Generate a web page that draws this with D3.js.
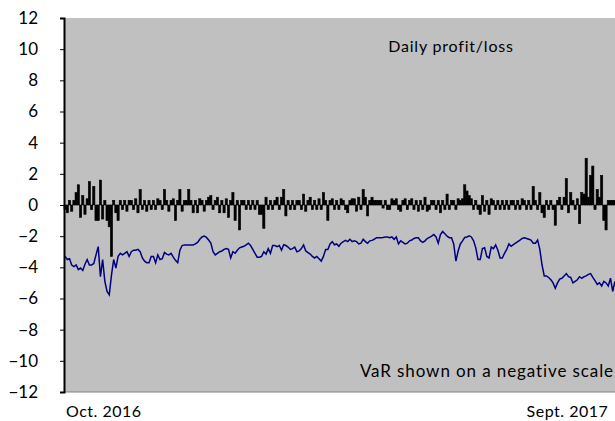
<!DOCTYPE html>
<html>
<head>
<meta charset="utf-8">
<script src="https://cdn.jsdelivr.net/npm/d3@7"></script>
<style>
  body { margin: 0; background: #fff; }
  text { font-family: Lato, "Open Sans", sans-serif; fill: #000; }
</style>
</head>
<body>
<div id="chart"></div>
<script>
var width = 615;
var height = 421;

// daily profit/loss, one value per trading day (Oct. 2016 - Sept. 2017)
var pnl = [
  -0.3, -0.5, 0.3, -0.4, 0.3, 0.8, 1.3, -0.8, 0.6, -0.6,
  0.4, 1.5, -0.3, 1.2, -1.0, -1.0, 1.6, -0.9, 0.3, -1.0,
  -1.4, -3.3, 0.3, -0.5, -1.0, 0.3, -0.3, 0.3, -0.4, 0.3,
  0.3, -0.3, 0.4, -0.5, 1.0, -0.3, 0.3, -0.4, 0.3, -0.3,
  0.3, -0.3, 0.4, 0.3, -0.3, 1.0, 0.3, -0.4, 0.3, 0.4,
  -1.0, 0.3, 1.0, -0.4, 0.3, 0.3, 1.0, 0.3, -0.5, 0.3,
  -0.5, 0.4, 0.3, -0.4, 0.3, 0.5, 0.6, -0.3, 0.3, 0.5,
  -0.5, 0.3, -0.5, 0.4, -0.8, 0.3, 0.8, -1.0, 0.3, -1.6,
  0.3, 0.3, -0.3, 0.3, -0.3, 0.3, -0.3, 0.3, -0.6, -0.6,
  -1.5, 0.5, -0.3, 0.3, -0.3, 0.3, 0.5, -0.3, 0.5, 1.0,
  -0.7, 0.3, -0.3, 0.3, -0.3, 0.3, 0.3, -0.3, 0.7, -0.4,
  0.3, 0.5, -0.3, 0.3, -0.3, 0.4, -0.3, 0.8, 0.3, -1.0,
  0.3, 0.4, -0.3, 0.3, -0.3, 0.4, 0.3, -0.3, -0.5, 0.3,
  0.4, 0.4, -0.4, 0.5, -0.3, 1.0, 0.5, -0.7, 0.3, 0.5,
  0.3, 0.3, 0.3, 0.3, -0.2, 0.3, -0.3, -0.3, 0.4, 0.3,
  0.4, -0.3, -0.4, 0.3, 0.4, -0.3, 0.3, 0.4, -0.3, 0.3,
  -0.4, 0.3, -0.3, 0.5, -0.4, -0.3, 0.3, 0.3, -0.3, 0.3,
  -0.5, 0.3, -0.3, 0.7, -0.3, 0.3, 0.3, -0.3, 0.4, 0.3,
  0.4, 1.3, 0.9, 0.6, 0.4, -0.3, 0.3, -0.3, -0.6, 0.6,
  -0.4, 0.3, -0.6, 0.4, 0.3, -0.3, 0.3, -0.3, 0.3, -0.3,
  0.3, -0.3, 0.3, 0.3, -0.3, 0.3, -0.3, 0.4, 0.3, -0.3,
  0.3, -0.3, 1.2, 0.3, -0.3, 0.8, -0.5, -0.8, 0.3, -0.3,
  0.3, -0.3, -1.3, 0.3, 0.5, -0.3, 0.5, 1.7, -0.5, 0.8,
  0.3, -0.3, 0.4, -1.2, 0.8, 0.7, 3.0, 0.5, 1.9, 2.5,
  -0.3, 1.0, 0.5, 1.9, -1.0, -1.6, 0.3, 0.3, 0.3, 0.3
];

// value-at-risk, shown on a negative scale
var valueAtRisk = [
  -3.3, -3.5, -3.45, -3.85, -3.95, -3.85, -4.15, -4.05, -4.2, -3.8,
  -3.5, -3.85, -3.85, -3.75, -3.2, -2.67, -4.6, -3.5, -4.9, -5.55,
  -5.77, -4.5, -3.5, -4.05, -3.3, -3.1, -3.2, -3.1, -3.0, -3.3,
  -3.0, -2.9, -2.9, -2.85, -3.0, -3.4, -3.6, -3.7, -3.7, -3.3,
  -3.3, -3.7, -3.2, -3.5, -3.45, -3.05, -3.15, -3.2, -3.1, -3.35,
  -3.55, -3.7, -2.9, -2.6, -2.56, -2.56, -2.56, -2.56, -2.56, -2.5,
  -2.4, -2.2, -2.05, -2.0, -2.08, -2.25, -2.45, -3.0, -3.2, -3.1,
  -3.0, -2.95, -2.85, -2.8, -2.85, -3.4, -3.0, -3.1, -2.9, -2.75,
  -2.7, -2.65, -2.56, -2.45, -2.6, -2.85, -3.1, -3.35, -3.35, -3.3,
  -3.0, -3.15, -2.8, -3.1, -2.6, -2.6, -2.67, -2.6, -2.9, -2.55,
  -2.6, -2.7, -2.85, -2.8, -2.7, -3.0, -2.95, -2.8, -2.56, -2.95,
  -3.05, -3.15, -3.3, -3.4, -3.3, -3.45, -3.6, -3.3, -2.85, -2.85,
  -2.5, -2.35, -2.55, -2.5, -2.65, -2.45, -2.35, -2.27, -2.35, -2.2,
  -2.35, -2.3, -2.35, -2.5, -2.45, -2.2, -2.35, -2.45, -2.3, -2.27,
  -2.2, -2.1, -2.1, -2.1, -2.08, -2.05, -2.05, -2.1, -2.05, -2.2,
  -2.05, -2.5, -2.3, -2.4, -2.5, -2.45, -2.3, -2.25, -2.15, -2.1,
  -2.1, -2.3, -2.4, -2.3, -2.15, -2.08, -2.0, -1.9, -2.05, -2.45,
  -1.9, -1.7, -1.85, -2.0, -2.1, -2.1, -2.5, -3.6, -2.95, -2.5,
  -2.3, -2.08, -2.05, -1.98, -2.05, -2.3, -2.75, -3.5, -3.5, -2.8,
  -2.75, -3.3, -3.4, -2.7, -2.8, -2.56, -2.9, -3.4, -3.4, -3.1,
  -2.85, -2.5, -2.65, -2.55, -2.45, -2.35, -2.25, -2.15, -2.1, -2.15,
  -2.2, -2.25, -2.45, -2.45, -2.25, -2.85, -3.85, -4.55, -4.55, -4.65,
  -4.8, -5.0, -5.35, -5.0, -4.75, -4.7, -4.55, -4.4, -4.6, -4.65,
  -5.0, -4.9, -4.8, -4.6, -4.7, -4.6, -4.55, -4.45, -4.4, -4.65,
  -4.85, -5.1, -5.0, -5.2, -4.9, -5.0, -5.2, -4.7, -5.55, -4.9
];

var yTicks = [-12, -10, -8, -6, -4, -2, 0, 2, 4, 6, 8, 10, 12];
var xTickIdx = [18, 228];
var xTickLabels = ["Oct. 2016", "Sept. 2017"];

var marginLeft = 64;
var marginTop = 18;
var plotRight = 616;
var plotBottom = 392;

var svg = d3.select("#chart").append("svg")
    .attr("width", width)
    .attr("height", height);

var x = d3.scaleBand()
    .domain(d3.range(pnl.length))
    .range([marginLeft, plotRight])
    .padding(0);

var y = d3.scaleLinear()
    .domain([-12, 12])
    .range([plotBottom, marginTop]);

// grey plot area
svg.append("rect")
    .attr("x", marginLeft)
    .attr("y", marginTop)
    .attr("width", width - marginLeft)
    .attr("height", plotBottom - marginTop)
    .style("fill", "#c0c0c0");

// daily profit/loss bars
svg.selectAll("rect.bar").data(pnl)
    .enter().append("rect")
    .attr("class", "bar")
    .attr("x", function (d, i) { return x(i); })
    .attr("width", x.bandwidth())
    .attr("y", function (d) { return y(Math.max(0, d)); })
    .attr("height", function (d) { return Math.abs(y(d) - y(0)); })
    .style("fill", "#000")
    .style("stroke", "#000")
    .style("stroke-width", 0.6);

// VaR line
var line = d3.line()
    .x(function (d, i) { return x(i) + x.bandwidth() / 2; })
    .y(function (d) { return y(d); });

svg.append("path")
    .datum(valueAtRisk)
    .attr("d", line)
    .style("fill", "none")
    .style("stroke", "#000080")
    .style("stroke-width", 1.5);

// bottom line of the plot area
svg.append("line")
    .attr("x1", marginLeft).attr("x2", width)
    .attr("y1", plotBottom).attr("y2", plotBottom)
    .style("stroke", "#808080")
    .style("stroke-width", 1);

// y axis
var yAxis = svg.append("g")
    .attr("transform", "translate(" + marginLeft + ",0)")
    .call(d3.axisLeft(y).tickValues(yTicks).tickSize(4).tickPadding(22));

yAxis.select(".domain").style("stroke", "#000").style("stroke-width", 2);
yAxis.selectAll(".tick line").style("stroke", "#000");
yAxis.selectAll("text")
    .style("font-family", "Lato, 'Open Sans', sans-serif")
    .style("font-size", "17px")
    .style("fill", "#000");

// x labels
svg.selectAll("text.xlab").data(xTickIdx)
    .enter().append("text")
    .attr("class", "xlab")
    .attr("x", function (d) { return x(d); })
    .attr("y", 417)
    .attr("text-anchor", "middle")
    .style("font-size", "16px")
    .style("letter-spacing", "0.5px")
    .text(function (d, i) { return xTickLabels[i]; });

// annotations
svg.append("text")
    .attr("x", 451)
    .attr("y", 52)
    .attr("text-anchor", "middle")
    .style("font-size", "16px")
    .style("letter-spacing", "0.8px")
    .text("Daily profit/loss");

svg.append("text")
    .attr("x", 614)
    .attr("y", 377)
    .attr("text-anchor", "end")
    .style("font-size", "17px")
    .style("letter-spacing", "0.9px")
    .text("VaR shown on a negative scale");
</script>
</body>
</html>
